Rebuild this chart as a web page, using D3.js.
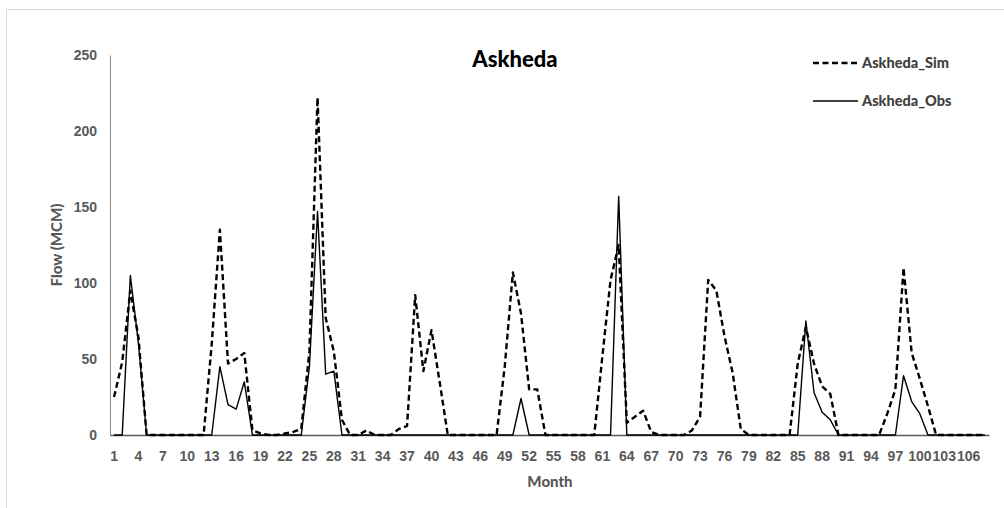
<!DOCTYPE html>
<html>
<head>
<meta charset="utf-8">
<script src="https://cdn.jsdelivr.net/npm/d3@7"></script>
<style>
  html, body { margin: 0; padding: 0; background: #fff; }
  svg { display: block; font-family: Lato, "Open Sans", sans-serif; }
</style>
</head>
<body>
<svg id="chart" width="1004" height="508"></svg>
<script>
// Monthly flow at Askheda (MCM), simulated vs observed, months 1..108
const months = d3.range(1, 109);

const simFlow = [
  25, 48, 95, 64, 0, 0, 0, 0, 0, 0, 0, 0,
  60, 135, 47, 50, 54, 3, 1, 0, 0, 1, 2, 4,
  55, 222, 77, 55, 10, 0, 0, 3, 0, 0, 0, 4,
  6, 92, 42, 69, 35, 0, 0, 0, 0, 0, 0, 0,
  45, 107, 80, 30, 30, 0, 0, 0, 0, 0, 0, 0,
  52, 102, 125, 8, 12, 16, 2, 0, 0, 0, 0, 3,
  12, 102, 95, 65, 41, 4, 0, 0, 0, 0, 0, 0,
  47, 71, 47, 32, 27, 0, 0, 0, 0, 0, 0, 14,
  30, 110, 54, 37, 19, 0, 0, 0, 0, 0, 0, 0
];

const obsFlow = [
  0, 0, 105, 60, 0, 0, 0, 0, 0, 0, 0, 0,
  0, 45, 20, 17, 35, 0, 0, 0, 0, 0, 0, 0,
  45, 147, 40, 42, 0, 0, 0, 0, 0, 0, 0, 0,
  0, 0, 0, 0, 0, 0, 0, 0, 0, 0, 0, 0,
  0, 0, 24, 0, 0, 0, 0, 0, 0, 0, 0, 0,
  0, 0, 157, 0, 0, 0, 0, 0, 0, 0, 0, 0,
  0, 0, 0, 0, 0, 0, 0, 0, 0, 0, 0, 0,
  0, 75, 28, 15, 10, 0, 0, 0, 0, 0, 0, 0,
  0, 39, 22, 14, 0, 0, 0, 0, 0, 0, 0, 0
];

const xTickLabels = months.filter((m, i) => i % 3 === 0);
const yTickValues = [0, 50, 100, 150, 200, 250];

const seriesNames = ["Askheda_Sim", "Askheda_Obs"];

const svg = d3.select("#chart");

// outer chart frame
svg.append("rect")
  .attr("x", 6.5).attr("y", 9.5)
  .attr("width", 1100).attr("height", 600)
  .attr("fill", "none")
  .attr("stroke", "#d9d9d9")
  .attr("stroke-width", 1);

const plot = { left: 110, right: 989, top: 55, bottom: 435 };

const x = d3.scaleBand()
  .domain(months)
  .range([plot.left, plot.right])
  .padding(0);

const y = d3.scaleLinear()
  .domain([0, 250])
  .range([plot.bottom, plot.top]);

const cx = m => x(m) + x.bandwidth() / 2;

// y axis
const yAxis = svg.append("g")
  .attr("transform", `translate(${plot.left},0)`)
  .call(d3.axisLeft(y).tickValues(yTickValues).tickSize(0).tickPadding(13));
yAxis.select(".domain").attr("stroke", "#8c8c8c").attr("stroke-width", 1);
yAxis.selectAll("text")
  .attr("fill", "#595959")
  .style("font-size", "14px")
  .style("font-weight", "900");

// x axis
const xAxis = svg.append("g")
  .attr("transform", `translate(0,${plot.bottom})`)
  .call(d3.axisBottom(x).tickValues(xTickLabels).tickSize(0).tickPadding(16));
xAxis.select(".domain").attr("stroke", "#595959").attr("stroke-width", 1.5);
xAxis.selectAll("text")
  .attr("fill", "#595959")
  .style("font-size", "14px")
  .style("font-weight", "900");

const line = d3.line()
  .x((d, i) => cx(months[i]))
  .y(d => y(d));

svg.append("path")
  .datum(obsFlow)
  .attr("d", line)
  .attr("fill", "none")
  .attr("stroke", "#000")
  .attr("stroke-width", 1.4)
  .attr("stroke-linejoin", "round");

svg.append("path")
  .datum(simFlow)
  .attr("d", line)
  .attr("fill", "none")
  .attr("stroke", "#000")
  .attr("stroke-width", 2.4)
  .attr("stroke-dasharray", "6,3.5")
  .attr("stroke-linejoin", "round");

// title
svg.append("text")
  .attr("x", 515).attr("y", 67)
  .attr("text-anchor", "middle")
  .attr("fill", "#000")
  .style("font-size", "22px")
  .style("font-weight", "900")
  .text("Askheda");

// axis titles
svg.append("text")
  .attr("transform", "translate(62,245) rotate(-90)")
  .attr("text-anchor", "middle")
  .attr("fill", "#595959")
  .style("font-size", "15px")
  .style("font-weight", "900")
  .text("Flow (MCM)");

svg.append("text")
  .attr("x", 550).attr("y", 487)
  .attr("text-anchor", "middle")
  .attr("fill", "#595959")
  .style("font-size", "15px")
  .style("font-weight", "900")
  .text("Month");

// legend
const legend = svg.append("g");
const legendRows = [
  { name: seriesNames[0], dash: "6,3.5", width: 2.4, yPos: 63 },
  { name: seriesNames[1], dash: null, width: 1.4, yPos: 101 }
];
legendRows.forEach(r => {
  legend.append("line")
    .attr("x1", 813).attr("x2", 858)
    .attr("y1", r.yPos).attr("y2", r.yPos)
    .attr("stroke", "#000")
    .attr("stroke-width", r.width)
    .attr("stroke-dasharray", r.dash);
  legend.append("text")
    .attr("x", 862).attr("y", r.yPos + 5)
    .attr("fill", "#404040")
    .style("font-size", "14.5px")
    .style("font-weight", "900")
    .text(r.name);
});
</script>
</body>
</html>
